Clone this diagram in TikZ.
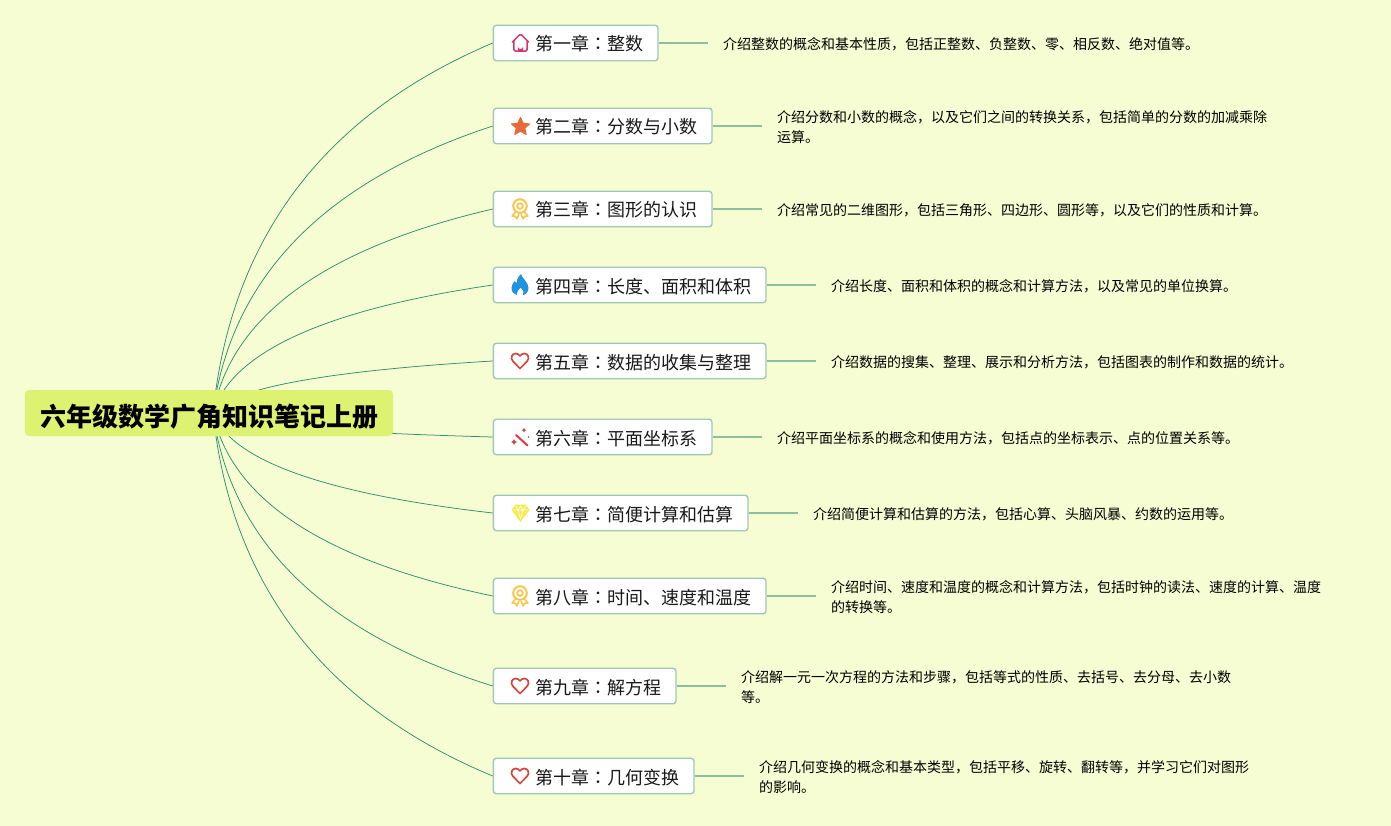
\documentclass[tikz,border=0pt]{standalone}
\usepackage{fontspec}
\setmainfont{Noto Sans CJK SC}
\newfontfamily\tcf{Noto Sans CJK TC}
\newcommand{\cl}{{\tcf ：}}
\newcommand{\tpc}[1]{\hspace*{42pt}#1\hspace*{14.6pt}}
\definecolor{bgc}{HTML}{F6FDD2}
\definecolor{rootc}{HTML}{DDF271}
\definecolor{curvec}{HTML}{2F8F6E}
\definecolor{stubc}{HTML}{8CC09C}
\definecolor{boxc}{HTML}{A0C8B4}
\definecolor{heartc}{HTML}{D2493F}
\definecolor{goldc}{HTML}{F8C84C}
\definecolor{HouseC}{HTML}{D6336C}
\definecolor{StarC}{HTML}{E8693A}
\definecolor{FlameC}{HTML}{1F93E0}
\definecolor{WandC}{HTML}{D23F3F}
\definecolor{GemC}{HTML}{F7EA4A}
\tikzset{
  x=1pt,y=-1pt,
  rootbox/.style={fill=rootc,rounded corners=4pt,minimum width=368pt,minimum height=46pt,inner sep=0pt,text height=26pt,text depth=0pt,font=\fontsize{26}{30}\selectfont\bfseries},
  topicbox/.style={draw=boxc,fill=white,line width=1.4pt,rounded corners=3pt,anchor=west,minimum height=35.5pt,inner xsep=0pt,inner ysep=0pt,text height=16pt,text depth=0pt,font=\fontsize{18}{22}\selectfont,text=black!90},
  descnode/.style={anchor=west,align=left,inner sep=0pt,font=\fontsize{14}{20}\selectfont},
  branch/.style={draw=curvec,line width=0.75pt},
  stub/.style={draw=stubc,line width=1.4pt},
  iconhouse/.pic={
    \draw[draw=HouseC,line width=1.5pt,line join=round,line cap=round] (-8.2,-0.8) -- (-1.2,-8) .. controls (-0.5,-8.7) and (0.5,-8.7) .. (1.2,-8) -- (8.2,-0.8) (-6.7,-2.3) -- (-6.7,6.5) .. controls (-6.7,7.7) and (-6.2,8.2) .. (-5.2,8.2) -- (5.2,8.2) .. controls (6.2,8.2) and (6.7,7.7) .. (6.7,6.5) -- (6.7,-2.3);
    \fill[HouseC] (-2.6,8.5) -- (-2.6,3.5) arc[start angle=180,end angle=0,radius=2.6] -- (2.6,8.5) -- cycle;
  },
  iconstar/.pic={
    \fill[draw=StarC,fill=StarC,line width=1pt,line join=round] (0,-9) -- (2.7,-3.2) -- (9,-2.5) -- (4.3,1.6) -- (5.7,8) -- (0,4.7) -- (-5.7,8) -- (-4.3,1.6) -- (-9,-2.5) -- (-2.7,-3.2) -- cycle;
  },
  iconmedal/.pic={
    \draw[goldc,line width=2pt] (0,-3) circle[radius=6.8];
    \draw[goldc,line width=1.8pt] (0,-3) circle[radius=2.8];
    \draw[goldc,line width=1.6pt,line join=round] (-4.5,3) -- (-7.8,7) -- (-4.8,7.3) -- (-3,9.8) -- (-1,5) (4.5,3) -- (7.8,7) -- (4.8,7.3) -- (3,9.8) -- (1,5);
  },
  iconflame/.pic={
    \fill[FlameC] (1,-11) .. controls (1.5,-7) and (8.5,-3) .. (8.5,3) .. controls (8.5,7) and (5.5,9.8) .. (3,10) .. controls (4.5,8) and (3.5,5.5) .. (0.5,2.5) .. controls (-0.5,5) and (-4.5,7) .. (-3,10) .. controls (-6,9.5) and (-8.5,7) .. (-8.5,3) .. controls (-8.5,0) and (-6.8,-1.5) .. (-5.7,-3.8) .. controls (-5,-2.7) and (-4.4,-2.2) .. (-3.4,-1.8) .. controls (-3.2,-6) and (-1.5,-9) .. (1,-11) -- cycle;
  },
  iconheart/.pic={
    \draw[heartc,line width=1.7pt,line join=round] (0,7.5) -- (-7.2,0.2) .. controls (-10,-3) and (-8,-7.5) .. (-4.4,-7.5) .. controls (-2.5,-7.5) and (-1,-6.5) .. (0,-5) .. controls (1,-6.5) and (2.5,-7.5) .. (4.4,-7.5) .. controls (8,-7.5) and (10,-3) .. (7.2,0.2) -- cycle;
  },
  iconwand/.pic={
    \draw[WandC,line width=2pt,line cap=round] (-4,-2) -- (7.5,8.5);
    \fill[WandC] (4,-9) -- (4.8,-7.6) -- (6.2,-6.8) -- (4.8,-6) -- (4,-4.6) -- (3.2,-6) -- (1.8,-6.8) -- (3.2,-7.6) -- cycle;
    \fill[WandC] (-6,2) -- (-5,4) -- (-3,5) -- (-5,6) -- (-6,8) -- (-7,6) -- (-9,5) -- (-7,4) -- cycle;
    \fill[WandC] (8.5,0) circle[radius=0.9];
  },
  icongem/.pic={
    \fill[GemC] (-5.2,-8.5) -- (5.2,-8.5) -- (9,-3) -- (0,9) -- (-9,-3) -- cycle;
    \draw[white,line width=0.6pt,line join=round] (-7,-3) -- (7,-3) (-5,-7) -- (-2.5,-3) -- (0,-7) -- (2.5,-3) -- (5,-7) (-2.5,-3) -- (0,6) -- (2.5,-3);
  },
}
\begin{document}
\begin{tikzpicture}
\fill[bgc] (0,0) rectangle (1391,826);
\useasboundingbox (0,0) rectangle (1391,826);
\coordinate (hub) at (213,413);
% topics
\node[topicbox] (t1) at (492.7,43) {\tpc{第一章\cl 整数}};
\node[topicbox] (t2) at (492.7,126) {\tpc{第二章\cl 分数与小数}};
\node[topicbox] (t3) at (492.7,209) {\tpc{第三章\cl 图形的认识}};
\node[topicbox] (t4) at (492.7,285) {\tpc{第四章\cl 长度、面积和体积}};
\node[topicbox] (t5) at (492.7,361) {\tpc{第五章\cl 数据的收集与整理}};
\node[topicbox] (t6) at (492.7,437) {\tpc{第六章\cl 平面坐标系}};
\node[topicbox] (t7) at (492.7,513) {\tpc{第七章\cl 简便计算和估算}};
\node[topicbox] (t8) at (492.7,596) {\tpc{第八章\cl 时间、速度和温度}};
\node[topicbox] (t9) at (492.7,686) {\tpc{第九章\cl 解方程}};
\node[topicbox] (t10) at (492.7,776) {\tpc{第十章\cl 几何变换}};
% curves
\foreach \n/\ty in {1/43,2/126,3/209,4/285,5/361,6/437,7/513,8/596,9/686,10/776}{
  \pgfmathsetmacro{\ca}{413-0.4733*(413-\ty)}
  \pgfmathsetmacro{\cb}{\ty+0.1933*(413-\ty)}
  \draw[branch] (hub) .. controls (231,\ca) and (324,\cb) .. (t\n.west);
}
% root
\node[rootbox] (root) at (209,413) {六年级数学广角知识笔记上册};
% descriptions
\node[descnode] (d1) at (723,44) {介绍整数的概念和基本性质，包括正整数、负整数、零、相反数、绝对值等。};
\node[descnode] (d2) at (777,127) {介绍分数和小数的概念，以及它们之间的转换关系，包括简单的分数的加减乘除\\运算。};
\node[descnode] (d3) at (777,210) {介绍常见的二维图形，包括三角形、四边形、圆形等，以及它们的性质和计算。};
\node[descnode] (d4) at (831,286) {介绍长度、面积和体积的概念和计算方法，以及常见的单位换算。};
\node[descnode] (d5) at (831,362) {介绍数据的搜集、整理、展示和分析方法，包括图表的制作和数据的统计。};
\node[descnode] (d6) at (777,438) {介绍平面坐标系的概念和使用方法，包括点的坐标表示、点的位置关系等。};
\node[descnode] (d7) at (813,514) {介绍简便计算和估算的方法，包括心算、头脑风暴、约数的运用等。};
\node[descnode] (d8) at (831,597) {介绍时间、速度和温度的概念和计算方法，包括时钟的读法、速度的计算、温度\\的转换等。};
\node[descnode] (d9) at (741,687) {介绍解一元一次方程的方法和步骤，包括等式的性质、去括号、去分母、去小数\\等。};
\node[descnode] (d10) at (759,777) {介绍几何变换的概念和基本类型，包括平移、旋转、翻转等，并学习它们对图形\\的影响。};
% stubs
\foreach \n/\ex/\ey in {1/708/43,2/762/126,3/762/209,4/816/285,5/816/361,6/762/437,7/798/513,8/816/596,9/726/686,10/744/776}{
  \coordinate (s\n) at (\ex,\ey);
  \draw[stub] (t\n.east) -- (s\n);
}
% icons
\pic at (520.5,43) {iconhouse};
\pic at (520.5,126.5) {iconstar};
\pic at (520,209) {iconmedal};
\pic at (520,285) {iconflame};
\pic at (520,361) {iconheart};
\pic at (520,437) {iconwand};
\pic at (520.5,513) {icongem};
\pic at (520,596) {iconmedal};
\pic at (520,686) {iconheart};
\pic at (520,776) {iconheart};
\end{tikzpicture}
\end{document}
